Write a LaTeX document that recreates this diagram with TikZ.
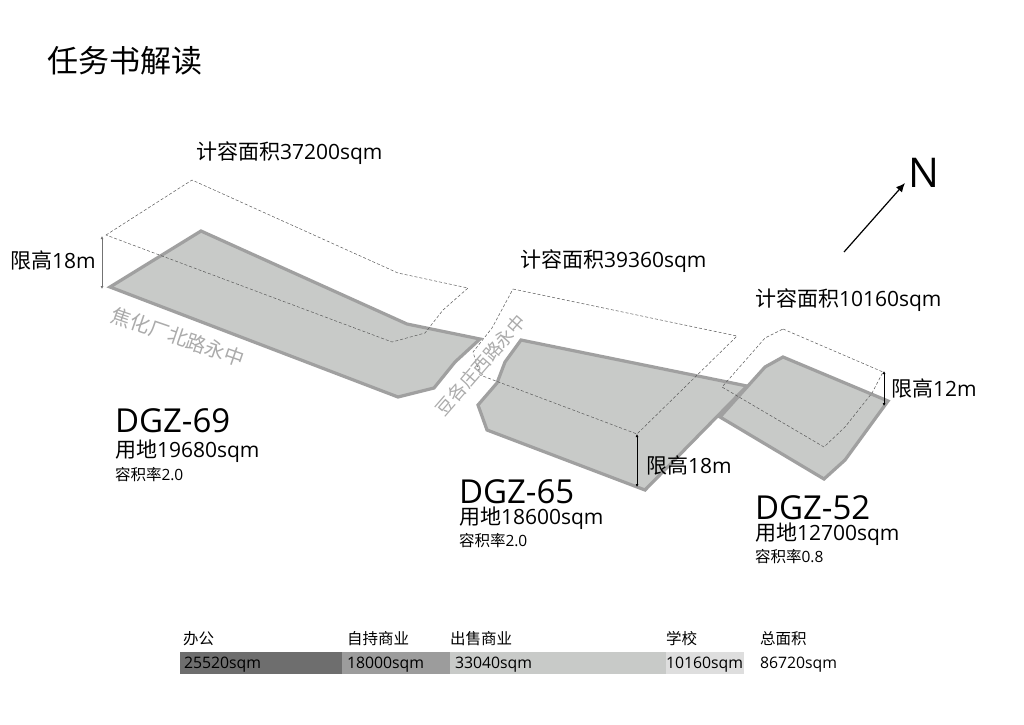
\documentclass[tikz,border=0pt]{standalone}
\usepackage{fontspec}
\setmainfont{Open Sans}
\newfontfamily\cjk{Noto Sans CJK SC}
\usetikzlibrary{arrows.meta}
\definecolor{sitefill}{HTML}{C8CAC8}
\definecolor{siteedge}{HTML}{A0A0A0}
\definecolor{roadtxt}{HTML}{ABABAB}
\newcommand{\pxfont}[1]{\fontsize{#1}{#1}\selectfont}
\newcommand{\txtA}[3]{\pxfont{#1}{\cjk #2}#3}
\tikzset{
  x=1pt,y=-1pt,
  site/.style={draw=siteedge,fill=sitefill,line width=3.2pt,line join=miter},
  volume/.style={draw=black!65,line width=0.5pt,dash pattern=on 3pt off 2pt,line join=round},
  dim/.style={draw=black,line width=1pt,{Latex[length=3pt,width=3pt]}-{Latex[length=3pt,width=3pt]}},
  lbl/.style={anchor=west,inner sep=0pt,outer sep=0pt,text=black},
  road/.style={inner sep=0pt,text=roadtxt}
}
\begin{document}
\begin{tikzpicture}
\useasboundingbox (0,0) rectangle (1024,724);
\fill[white] (0,0) rectangle (1024,724);

\node[lbl] (title) at (47,60.5) {\pxfont{31}\cjk 任务书解读};

% sites
\path[site] (110,287) -- (201,231) -- (407,324) -- (480,339) -- (455,362) -- (434,388) -- (398,397) -- cycle;
\path[site] (521,340) -- (747,386) -- (645,490) -- (487,430) -- (478,405) -- (497,383) -- (505,362) -- cycle;
\path[site] (783,357) -- (888,401) -- (845,460) -- (824,479) -- (720,417) -- (765,367) -- cycle;

% volumes
\draw[volume] (106,235) -- (192,180) -- (398,273) -- (468,288) -- (443,310) -- (425,333) -- (392,342) -- cycle;
\draw[volume] (513,289) -- (737,336) -- (637,434) -- (480,375) -- (473,352) -- (492,328) -- cycle;
\draw[volume] (783,329) -- (883,372) -- (872,393) -- (845,427) -- (824,447) -- (722,387) -- (765,338) -- cycle;

% height dims
\coordinate (a1) at (102,236); \coordinate (a2) at (102,289);
\coordinate (b1) at (637,434); \coordinate (b2) at (637,487);
\coordinate (c1) at (884,371); \coordinate (c2) at (884,406);
\draw[dim,draw=black!55] (a1) -- (a2);
\draw[dim] (b1) -- (b2);
\draw[dim] (c1) -- (c2);

% north
\coordinate (n1) at (844,252); \coordinate (n2) at (905,183);
\draw[black,line width=1.2pt,-{Latex[length=9pt,width=8pt]}] (n1) -- (n2);
\node[inner sep=0pt] (north) at (923.5,173) {\pxfont{41}N};

% top labels
\node[lbl] (v69) at (196,153) {\txtA{21}{计容面积}{37200sqm}};
\node[lbl] (v65) at (520,261.5) {\txtA{21}{计容面积}{39360sqm}};
\node[lbl] (v52) at (755,300) {\txtA{21}{计容面积}{10160sqm}};
\node[lbl] (h69) at (10,260) {\txtA{21}{限高}{18m}};
\node[lbl] (h65) at (646,465) {\txtA{21}{限高}{18m}};
\node[lbl] (h52) at (891,388) {\txtA{21}{限高}{12m}};

% roads
\node[road,rotate=-19] (r1) at (178,337) {\pxfont{20}\cjk 焦化厂北路永中};
\node[road,rotate=49] (r2) at (481,365) {\pxfont{18}\cjk 豆各庄西路永中};

% site labels
\node[lbl] (n69) at (115,420.5) {\pxfont{33}DGZ-69};
\node[lbl] (s69) at (115,451.5) {\txtA{21}{用地}{19680sqm}};
\node[lbl] (f69) at (115,475) {\txtA{15.5}{容积率}{2.0}};
\node[lbl] (n65) at (459,491.5) {\pxfont{33}DGZ-65};
\node[lbl] (s65) at (459,518) {\txtA{21}{用地}{18600sqm}};
\node[lbl] (f65) at (459,541) {\txtA{15.5}{容积率}{2.0}};
\node[lbl] (n52) at (755,507.5) {\pxfont{33}DGZ-52};
\node[lbl] (s52) at (755,534) {\txtA{21}{用地}{12700sqm}};
\node[lbl] (f52) at (755,557) {\txtA{15.5}{容积率}{0.8}};

% legend
\fill[fill=black!57] (180,652) rectangle (342,674);
\fill[fill=black!39] (342,652) rectangle (450,674);
\fill[fill=sitefill] (450,652) rectangle (666,674);
\fill[fill=black!13] (666,652) rectangle (744,674);
\node[lbl] (k1) at (183,639) {\pxfont{15.5}\cjk 办公};
\node[lbl] (k2) at (347,639) {\pxfont{15.5}\cjk 自持商业};
\node[lbl] (k3) at (450,639) {\pxfont{15.5}\cjk 出售商业};
\node[lbl] (k4) at (666,639) {\pxfont{15.5}\cjk 学校};
\node[lbl] (k5) at (760,639) {\pxfont{15.5}\cjk 总面积};
\node[lbl] (t1) at (184,664.5) {\pxfont{15.8}25520sqm};
\node[lbl] (t2) at (347,664.5) {\pxfont{15.8}18000sqm};
\node[lbl] (t3) at (455,664.5) {\pxfont{15.8}33040sqm};
\node[lbl] (t4) at (666,664.5) {\pxfont{15.8}10160sqm};
\node[lbl] (t5) at (760,664.5) {\pxfont{15.8}86720sqm};
\end{tikzpicture}
\end{document}
